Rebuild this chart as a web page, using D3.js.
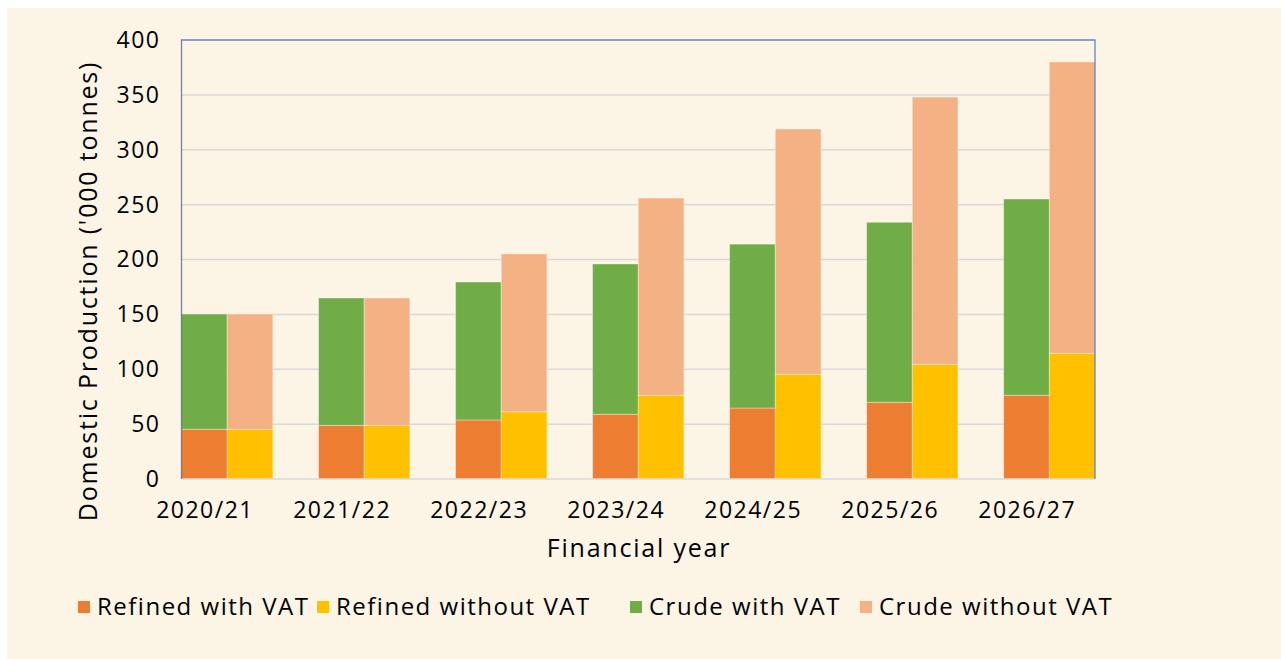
<!DOCTYPE html>
<html><head><meta charset="utf-8">
<script src="https://cdn.jsdelivr.net/npm/d3@7"></script>
<style>body{margin:0;background:#fff;} svg{display:block;}</style>
</head><body>
<svg id="c" width="1281" height="659"></svg>
<script>
const categories = ["2020/21","2021/22","2022/23","2023/24","2024/25","2025/26","2026/27"];
const refinedWithVAT    = [45.3, 48.9, 53.8, 59.0, 64.7, 69.9, 76.3];
const crudeWithVAT      = [105.0, 116.0, 125.7, 136.9, 149.3, 164.0, 178.8];
const refinedWithoutVAT = [45.3, 48.9, 61.3, 76.3, 95.4, 104.5, 114.5];
const crudeWithoutVAT   = [105.0, 116.0, 143.7, 179.7, 223.5, 243.5, 265.5];
const yTicks = [0,50,100,150,200,250,300,350,400];
const seriesNames = ["Refined with VAT","Refined without VAT","Crude with VAT","Crude without VAT"];
const colors = {"Refined with VAT":"#ED7D31","Refined without VAT":"#FFC000","Crude with VAT":"#70AD47","Crude without VAT":"#F4B183"};

const FONT = "'Open Sans', sans-serif";
const FS = 23, LS = 1.5;
const svg = d3.select("#c");
svg.append("rect").attr("x",7).attr("y",8).attr("width",1274).attr("height",651).attr("fill","#FCF4E5");

const L=181.5, R=1095, T=40, B=479;
const x = d3.scaleBand().domain(categories).range([L,R]).paddingInner(1/3).paddingOuter(0);
const bw = x.bandwidth()/2;
const y = d3.scaleLinear().domain([0,400]).range([B,T]);

// gridlines
svg.append("g").selectAll("line").data(yTicks.filter(d=>d>0 && d<400)).join("line")
  .attr("x1",L).attr("x2",R).attr("y1",d=>y(d)).attr("y2",d=>y(d))
  .attr("stroke","#D9D9D9").attr("stroke-width",1.5);

// stacks
const stacks = [
  {off:0, parts:[["Refined with VAT",refinedWithVAT],["Crude with VAT",crudeWithVAT]]},
  {off:1, parts:[["Refined without VAT",refinedWithoutVAT],["Crude without VAT",crudeWithoutVAT]]}
];
const gb = svg.append("g");
stacks.forEach(s=>{
  categories.forEach((c,i)=>{
    let base=0;
    s.parts.forEach(([name,arr])=>{
      const v=arr[i];
      gb.append("rect")
        .attr("x",x(c)+s.off*bw).attr("width",bw)
        .attr("y",y(base+v)).attr("height",y(base)-y(base+v))
        .attr("fill",colors[name]).attr("stroke","rgba(255,255,255,0.35)").attr("stroke-width",1);
      base+=v;
    });
  });
});

// borders
svg.append("line").attr("x1",L).attr("x2",R).attr("y1",B).attr("y2",B).attr("stroke","#D9D9D9").attr("stroke-width",1.5);
svg.append("path").attr("d",`M${L},${B}V${T}H${R}V${B}`).attr("fill","none").attr("stroke","#4472C4").attr("stroke-width",1.3).attr("opacity",0.85);

// y axis labels
const yAxis = d3.axisLeft(y).tickValues(yTicks).tickSize(0).tickPadding(21);
const ga = svg.append("g").attr("transform",`translate(${L},0)`).call(yAxis);
ga.select(".domain").remove();
ga.selectAll("text").attr("font-family",FONT).attr("font-size",FS).attr("letter-spacing",LS).attr("fill","#000");

// x axis labels (centred under first bar of each pair)
const xAxis = d3.axisBottom(x).tickSize(0).tickPadding(0);
const gx = svg.append("g").attr("transform",`translate(${bw/2 - x.bandwidth()/2 + LS/2},${B})`).call(xAxis);
gx.select(".domain").remove();
gx.selectAll("text").attr("font-family",FONT).attr("font-size",FS).attr("letter-spacing",LS).attr("fill","#000")
  .attr("dy",null).attr("y",39);

// titles
svg.append("text").attr("x",639).attr("y",557).attr("text-anchor","middle")
  .attr("font-family",FONT).attr("font-size",25).attr("letter-spacing",1.8).attr("fill","#000").text("Financial year");
svg.append("text").attr("transform","translate(97,291) rotate(-90)").attr("text-anchor","middle")
  .attr("font-family",FONT).attr("font-size",25).attr("letter-spacing",1.8).attr("fill","#000").text("Domestic Production ('000 tonnes)");

// legend
const legX=[78,317,630,860];
const lg = svg.append("g");
seriesNames.forEach((n,i)=>{
  lg.append("rect").attr("x",legX[i]).attr("y",601).attr("width",12).attr("height",12).attr("fill",colors[n]);
  lg.append("text").attr("x",legX[i]+19).attr("y",615).attr("font-family",FONT).attr("font-size",24).attr("letter-spacing",1.5).attr("fill","#000").text(n);
});
</script>
</body></html>
